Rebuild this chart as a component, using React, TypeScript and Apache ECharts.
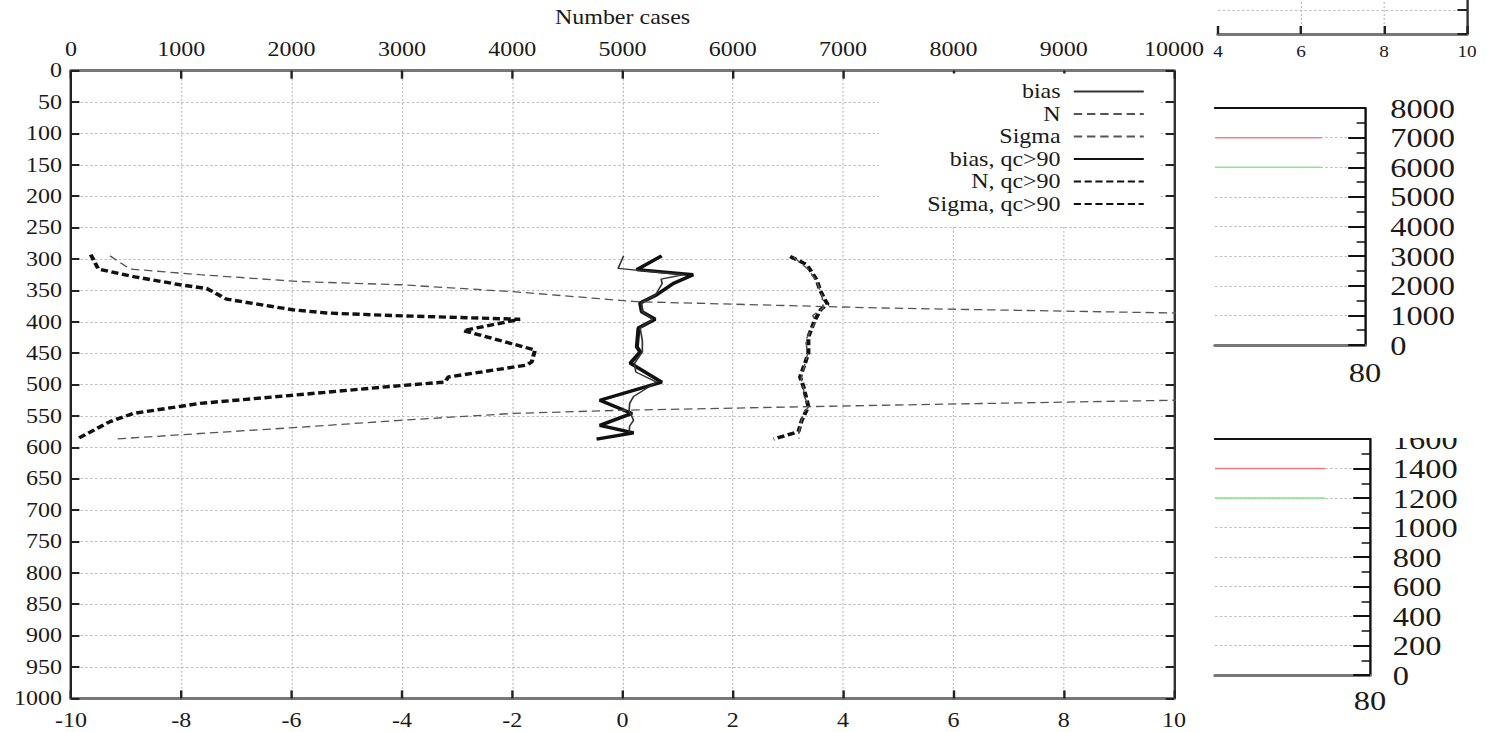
import React, { useEffect, useRef } from "react";
import * as echarts from "echarts";

// ---------- data (pressure levels in hPa) ----------
const seriesNames = ["bias", "N", "Sigma", "bias, qc>90", "N, qc>90", "Sigma, qc>90"];

const bottomTicks = [-10, 10, 2]; // min, max, step of "bias / sigma" axis
const topTicks = [0, 10000, 1000]; // min, max, step of "Number cases" axis
const pressureTicks = [0, 1000, 50];

const biasP = [295, 315, 325, 332, 339, 357, 370, 384, 396, 410, 430, 448, 466, 480, 496, 519, 530, 541, 557, 566, 576];
const biasV = [0.02, -0.08, 1.1, 0.7, 0.72, 0.6, 0.34, 0.36, 0.55, 0.32, 0.36, 0.36, 0.22, 0.24, 0.62, 0.2, 0.13, 0.12, 0.2, 0.13, 0.12];

const nP = [295, 316, 325, 336, 341, 352, 368, 378, 386, 400, 450, 500, 525, 533, 541, 546, 557, 568, 578, 587];
const nV = [354, 535, 1170, 2076, 2983, 4007, 5128, 7335, 10000, 14000, 20000, 16000, 10000, 7335, 4977, 4007, 2983, 2076, 1170, 384];

const sigP = [297, 315, 335, 360, 378, 390, 400, 412, 430, 450, 470, 490, 505, 520, 535, 545, 560, 575, 586];
const sigV = [3.1, 3.35, 3.52, 3.62, 3.64, 3.45, 3.5, 3.42, 3.32, 3.36, 3.3, 3.24, 3.28, 3.3, 3.38, 3.28, 3.24, 3.2, 3.2];

const biasQcP = [295, 317, 325, 339, 357, 370, 384, 396, 410, 440, 448, 466, 496, 525, 546, 565, 577, 587];
const biasQcV = [0.71, 0.26, 1.28, 0.92, 0.62, 0.32, 0.35, 0.59, 0.29, 0.26, 0.32, 0.14, 0.71, -0.41, 0.17, -0.41, 0.2, -0.47];

const nQcP = [293, 316, 328, 341, 347, 364, 381, 386, 390, 396, 414, 445, 464, 469, 488, 496, 503, 517, 530, 546, 559, 587];
const nQcV = [179, 248, 565, 988, 1230, 1411, 2015, 2318, 2900, 4071, 3557, 4207, 4177, 4131, 3421, 3391, 2900, 2015, 1170, 565, 354, 52];

const sigQcP = [296, 309, 333, 349, 365, 372, 380, 397, 424, 450, 466, 488, 503, 535, 557, 575, 587];
const sigQcV = [3.04, 3.34, 3.52, 3.58, 3.67, 3.72, 3.6, 3.49, 3.37, 3.37, 3.31, 3.22, 3.28, 3.37, 3.25, 3.19, 2.74];

// cropped neighbour panels on the right
const panelAX = [4, 10, 2];
const panelAY = [0, 2, 1];
const panelBX = [70, 80, 10];
const panelBY = [0, 8000, 1000];
const panelCY = [0, 1600, 200];
const keySampleX = [70, 77.1];
const panelBRed = 7000;
const panelBGreen = 6000;
const panelCRed = 1400;
const panelCGreen = 1200;

// ---------- layout ----------
const SX = 1.2; // the reference is horizontally stretched
const W = 1497 / SX;
const H = 732;
const px = (x: number) => x / SX;
const FONT = "'Liberation Serif', 'Times New Roman', serif";
const TXT = "#1a1a1a";
const plain = (v: number) => String(v);

const dotted = { show: true, showMinLine: false, showMaxLine: false, lineStyle: { color: "#bbb", width: 1, type: [2, 2] } };

function zip(v: number[], p: number[]) {
  return v.map((x, i) => [x, p[i]]);
}

function buildOption(): any {
  const thinDash = [7, 4];
  const thickDash = [6, 3];
  const line = (name: string, xi: number, data: number[][], color: string, width: number, type: any) => ({
    name,
    type: "line",
    xAxisIndex: xi,
    yAxisIndex: 0,
    data,
    symbol: "none",
    color,
    lineStyle: { color, width, type },
    z: width > 2 ? 3 : 4,
  });
  const keyLine = (xi: number, yi: number, y: number, color: string) => ({
    name: "key" + xi + "-" + y,
    type: "line",
    xAxisIndex: xi,
    yAxisIndex: yi,
    data: keySampleX.map((x) => [x, y]),
    symbol: "none",
    color,
    lineStyle: { color, width: 1.5 },
    z: 5,
  });

  const labelStyle = (size: number, margin: number) => ({ fontFamily: FONT, fontSize: size, color: TXT, margin, formatter: plain });

  return {
    animation: false,
    backgroundColor: "#fff",
    grid: [
      { left: px(71), top: 70.7, width: px(1174) - px(71), height: 627.7, outerBoundsMode: "none" },
      { left: px(1218), top: -14, width: px(1467) - px(1218), height: 48, outerBoundsMode: "none" },
      { left: px(1215), top: 108, width: px(1365) - px(1215), height: 237, outerBoundsMode: "none" },
      { left: px(1215), top: 439, width: px(1370) - px(1215), height: 236, outerBoundsMode: "none" },
    ],
    xAxis: [
      {
        type: "value", gridIndex: 0, position: "bottom",
        min: bottomTicks[0], max: bottomTicks[1], interval: bottomTicks[2],
        axisLine: { show: true, onZero: false, lineStyle: { color: "#777", width: 3 } },
        axisTick: { show: true, inside: true, length: 8, lineStyle: { color: "#222", width: 2 } },
        axisLabel: labelStyle(20, 12),
        splitLine: dotted,
      },
      {
        type: "value", gridIndex: 0, position: "top",
        min: topTicks[0], max: topTicks[1], interval: topTicks[2],
        name: "Number cases", nameLocation: "middle", nameGap: 44,
        nameTextStyle: { fontFamily: FONT, fontSize: 20, color: TXT },
        axisLine: { show: true, onZero: false, lineStyle: { color: "#777", width: 3 } },
        axisTick: { show: true, inside: true, length: 8, lineStyle: { color: "#222", width: 2 } },
        axisLabel: labelStyle(20, 12),
        splitLine: { show: false },
      },
      {
        type: "value", gridIndex: 1, position: "bottom",
        min: panelAX[0], max: panelAX[1], interval: panelAX[2],
        axisLine: { show: true, onZero: false, lineStyle: { color: "#777", width: 3 } },
        axisTick: { show: true, inside: true, length: 8, lineStyle: { color: "#222", width: 2 } },
        axisLabel: labelStyle(16, 10),
        splitLine: dotted,
      },
      {
        type: "value", gridIndex: 2, position: "bottom",
        min: panelBX[0], max: panelBX[1], interval: panelBX[2],
        axisLine: { show: true, onZero: false, lineStyle: { color: "#777", width: 3 } },
        axisTick: { show: false },
        axisLabel: { ...labelStyle(27, 14), showMinLabel: false },
        splitLine: { show: false },
      },
      {
        type: "value", gridIndex: 2, position: "top",
        min: panelBX[0], max: panelBX[1], interval: panelBX[2],
        axisLine: { show: true, onZero: false, lineStyle: { color: "#111", width: 2 } },
        axisTick: { show: false }, axisLabel: { show: false }, splitLine: { show: false },
      },
      {
        type: "value", gridIndex: 3, position: "bottom",
        min: panelBX[0], max: panelBX[1], interval: panelBX[2],
        axisLine: { show: true, onZero: false, lineStyle: { color: "#777", width: 3 } },
        axisTick: { show: false },
        axisLabel: { ...labelStyle(27, 12), showMinLabel: false },
        splitLine: { show: false },
      },
      {
        type: "value", gridIndex: 3, position: "top",
        min: panelBX[0], max: panelBX[1], interval: panelBX[2],
        axisLine: { show: true, onZero: false, lineStyle: { color: "#111", width: 2 } },
        axisTick: { show: false }, axisLabel: { show: false }, splitLine: { show: false },
      },
    ],
    yAxis: [
      {
        type: "value", gridIndex: 0, position: "left", inverse: true,
        min: pressureTicks[0], max: pressureTicks[1], interval: pressureTicks[2],
        axisLine: { show: true, onZero: false, lineStyle: { color: "#222", width: 2 } },
        axisTick: { show: true, inside: true, length: 7, lineStyle: { color: "#222", width: 2 } },
        axisLabel: labelStyle(20, 7.5),
        splitLine: dotted,
      },
      {
        type: "value", gridIndex: 0, position: "right", inverse: true,
        min: pressureTicks[0], max: pressureTicks[1], interval: pressureTicks[2],
        axisLine: { show: true, onZero: false, lineStyle: { color: "#333", width: 2 } },
        axisTick: { show: true, inside: true, length: 7, lineStyle: { color: "#222", width: 2 } },
        axisLabel: { show: false }, splitLine: { show: false },
      },
      {
        type: "value", gridIndex: 1, position: "right",
        min: panelAY[0], max: panelAY[1], interval: panelAY[2],
        axisLine: { show: true, onZero: false, lineStyle: { color: "#333", width: 2 } },
        axisTick: { show: true, inside: true, length: 8, lineStyle: { color: "#222", width: 2 } },
        axisLabel: { show: false },
        splitLine: dotted,
      },
      {
        type: "value", gridIndex: 2, position: "right",
        min: panelBY[0], max: panelBY[1], interval: panelBY[2],
        axisLine: { show: true, onZero: false, lineStyle: { color: "#111", width: 2 } },
        axisTick: { show: true, inside: true, length: 14, lineStyle: { color: "#111", width: 2 } },
        minorTick: { show: true, splitNumber: 2, length: 7, lineStyle: { color: "#111", width: 1.5 } },
        axisLabel: labelStyle(27, 21),
        splitLine: dotted,
      },
      {
        type: "value", gridIndex: 3, position: "right",
        min: panelCY[0], max: panelCY[1], interval: panelCY[2],
        axisLine: { show: true, onZero: false, lineStyle: { color: "#111", width: 2 } },
        axisTick: { show: true, inside: true, length: 14, lineStyle: { color: "#111", width: 2 } },
        minorTick: { show: true, splitNumber: 2, length: 7, lineStyle: { color: "#111", width: 1.5 } },
        axisLabel: labelStyle(27, 19),
        splitLine: dotted,
      },
    ],
    legend: {
      data: seriesNames,
      orient: "vertical",
      align: "right",
      right: W - px(1145) - 12,
      top: 73.5,
      itemWidth: px(1145) - px(1075),
      itemHeight: 14,
      itemGap: 2.5,
      padding: [8, 12, 12, 40],
      backgroundColor: "#fff",
      selectedMode: false,
      itemStyle: { opacity: 0, borderWidth: 0 },
      textStyle: { fontFamily: FONT, fontSize: 20, color: TXT, padding: [0, 6, 0, 0] },
      z: 10,
    },
    graphic: [
      { type: "rect", left: px(1378), top: 392, shape: { width: px(1497) - px(1378), height: 46 }, style: { fill: "#fff" }, z: 100 },
    ],
    series: [
      line(seriesNames[0], 0, zip(biasV, biasP), "#333", 1.4, "solid"),
      line(seriesNames[1], 1, zip(nV, nP), "#555", 1.3, thinDash),
      line(seriesNames[2], 0, zip(sigV, sigP), "#555", 1.3, thinDash),
      line(seriesNames[3], 0, zip(biasQcV, biasQcP), "#111", 3.4, "solid"),
      line(seriesNames[4], 1, zip(nQcV, nQcP), "#111", 3.4, thickDash),
      line(seriesNames[5], 0, zip(sigQcV, sigQcP), "#111", 3.4, thickDash),
      keyLine(3, 3, panelBRed, "#e58a8a"),
      keyLine(3, 3, panelBGreen, "#8ae68a"),
      keyLine(5, 4, panelCRed, "#f07a7a"),
      keyLine(5, 4, panelCGreen, "#7aee7a"),
    ],
  };
}

export default function App() {
  const ref = useRef<HTMLDivElement>(null);
  useEffect(() => {
    if (!ref.current) return;
    const chart = echarts.init(ref.current, null, { renderer: "svg", width: W, height: H });
    chart.setOption(buildOption());
    return () => chart.dispose();
  }, []);
  return (
    <div
      ref={ref}
      style={{
        position: "fixed",
        left: 0,
        top: 0,
        width: W,
        height: H,
        transform: `scaleX(${SX})`,
        transformOrigin: "0 0",
        background: "#fff",
      }}
    />
  );
}
